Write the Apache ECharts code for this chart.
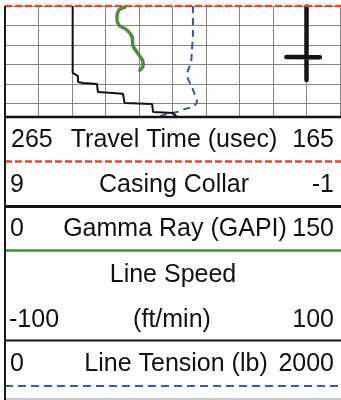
<!DOCTYPE html>
<html>
<head>
<meta charset="utf-8">
<title>Well log track</title>
<script src="https://cdn.jsdelivr.net/npm/echarts@6/dist/echarts.min.js"></script>
<style>
  html, body { margin: 0; padding: 0; background: #ffffff; }
  #chart { width: 341px; height: 400px; }
</style>
</head>
<body>
<div id="chart"></div>
<script>
// Depth window of the track (ft) and depth grid spacing
const depthMin = 2400;
const depthMax = 2457;
const depthStep = 10;

// Header curve names and scale ends (left value, right value)
const curveNames = ['Travel Time (usec)', 'Casing Collar', 'Gamma Ray (GAPI)', 'Line Speed', 'Line Tension (lb)'];
const scaleLeft  = [265, 9, 0, -100, 0];
const scaleRight = [165, -1, 150, 100, 2000];
const speedUnit = '(ft/min)';

// Curves: [value, depth]
const lineSpeed = [
  [-59.6, 2400.0], [-59.6, 2434.4], [-56.4, 2436.0], [-56.4, 2439.0], [-53.4, 2439.5],
  [-45.1, 2440.1], [-44.5, 2444.2], [-44.0, 2444.7], [-29.6, 2445.0], [-28.6, 2449.8],
  [-12.2, 2450.3], [-11.6, 2454.4], [0.3, 2455.0], [3.3, 2457.5]
];
const gammaRay = [
  [53.7, 2400.5], [51.0, 2402.1], [50.1, 2406.2], [51.0, 2409.8], [54.6, 2412.3],
  [56.9, 2415.9], [57.3, 2420.5], [60.0, 2425.2], [61.8, 2428.8], [61.8, 2430.8],
  [60.4, 2432.9]
];
const lineTension = [
  [1122, 2400.0], [1122, 2413.9], [1116, 2422.6], [1110, 2429.3], [1093, 2432.9],
  [1087, 2435.4], [1116, 2441.6], [1134, 2445.7], [1146, 2449.3], [1116, 2451.9],
  [1075, 2452.9], [1027, 2454.4], [967, 2455.5], [907, 2457.0], [866, 2457.5]
];
const casingCollar = [
  [0, 2400.3], [0, 2426.0], [0.6, 2426.2], [-0.4, 2426.3], [0, 2426.5], [0, 2438.0]
];

const chart = echarts.init(document.getElementById('chart'), null, { renderer: 'canvas' });

// Track frame
const trackLeft = 5, trackRight = 340, trackTop = 6, headerTop = 117;
const W = 341;

// One hidden x axis per curve, scaled from the header ends
function curveAxis(i) {
  const a = scaleLeft[i], b = scaleRight[i];
  return {
    type: 'value', gridIndex: 0,
    min: Math.min(a, b), max: Math.max(a, b),
    inverse: a > b, show: false
  };
}

const xAxes = [
  { // grid divisions: ten columns
    type: 'value', min: 0, max: 10, interval: 1,
    axisLine: { show: false }, axisTick: { show: false }, axisLabel: { show: false },
    splitLine: { show: true, lineStyle: { color: '#858585', width: 1 } }
  },
  curveAxis(1), curveAxis(2), curveAxis(3), curveAxis(4)
];

const font = '25px "Liberation Sans", Arial, sans-serif';
const ink = '#111111';
const cx = (trackLeft + W) / 2 + 1;
const rowY = [140, 185.5, 229.5, 275, 320, 364.5];

function text(str, x, y, align) {
  return { type: 'text', z: 100, style: { text: str, x: x, y: y, font: font, fill: ink, align: align, verticalAlign: 'middle' } };
}
function hline(y, color, width, dash) {
  return { type: 'line', z: 90, shape: { x1: trackLeft, y1: y, x2: W, y2: y },
    style: { stroke: color, lineWidth: width, lineDash: dash || null } };
}

const graphics = [
  // header background
  { type: 'rect', z: 80, shape: { x: 0, y: headerTop, width: W, height: 400 - headerTop }, style: { fill: '#ffffff' } },
  hline(trackTop, '#e8482e', 2.5, [7, 3]),
  hline(headerTop, '#111111', 2.5),
  text(String(scaleLeft[0]), 11, rowY[0], 'left'),
  text(curveNames[0], cx, rowY[0], 'center'),
  text(String(scaleRight[0]), 334, rowY[0], 'right'),
  hline(161.5, '#e8482e', 2.5, [7, 3]),
  text(String(scaleLeft[1]), 10, rowY[1], 'left'),
  text(curveNames[1], cx, rowY[1], 'center'),
  text(String(scaleRight[1]), 334, rowY[1], 'right'),
  hline(206.5, '#111111', 3),
  text(String(scaleLeft[2]), 10, rowY[2], 'left'),
  text(curveNames[2], cx + 1, rowY[2], 'center'),
  text(String(scaleRight[2]), 334, rowY[2], 'right'),
  hline(250.5, '#4d8a3a', 2.5),
  text(curveNames[3], cx - 1, rowY[3], 'center'),
  text(String(scaleLeft[3]), 9, rowY[4], 'left'),
  text(speedUnit, cx - 2, rowY[4], 'center'),
  text(String(scaleRight[3]), 334, rowY[4], 'right'),
  hline(340.5, '#111111', 1.8),
  text(String(scaleLeft[4]), 10, rowY[5], 'left'),
  text(curveNames[4], cx + 2, rowY[5], 'center'),
  text(String(scaleRight[4]), 334, rowY[5], 'right'),
  hline(386, '#3a5bb0', 2, [8, 5]),
  hline(399, '#c8c8c8', 2),
  // left border
  { type: 'line', z: 95, shape: { x1: trackLeft, y1: trackTop, x2: trackLeft, y2: 400 },
    style: { stroke: '#1a1a1a', lineWidth: 2 } }
];

chart.setOption({
  animation: false,
  backgroundColor: '#ffffff',
  grid: { left: trackLeft, width: trackRight - trackLeft, top: trackTop, height: headerTop - trackTop, containLabel: false },
  xAxis: xAxes,
  yAxis: {
    type: 'value', inverse: true, min: depthMin, max: depthMax, interval: depthStep,
    axisLine: { show: false }, axisTick: { show: false }, axisLabel: { show: false },
    splitLine: { show: true, lineStyle: { color: '#858585', width: 1 } }
  },
  series: [
    { name: curveNames[1], type: 'line', xAxisIndex: 1, data: casingCollar, showSymbol: false, clip: true,
      lineStyle: { color: '#141414', width: 4.5, cap: 'round', join: 'round' }, z: 4 },
    { name: curveNames[2], type: 'line', xAxisIndex: 2, data: gammaRay, showSymbol: false, clip: true, smooth: 0.3,
      lineStyle: { color: '#4e8d3b', width: 3.5, cap: 'round' }, z: 3 },
    { name: curveNames[3], type: 'line', xAxisIndex: 3, data: lineSpeed, showSymbol: false, clip: true,
      lineStyle: { color: '#111111', width: 2 }, z: 5 },
    { name: curveNames[4], type: 'line', xAxisIndex: 4, data: lineTension, showSymbol: false, clip: true, smooth: 0.3,
      lineStyle: { color: '#3556ab', width: 2, type: [7, 5] }, z: 2 }
  ],
  graphic: graphics
});
</script>
</body>
</html>
